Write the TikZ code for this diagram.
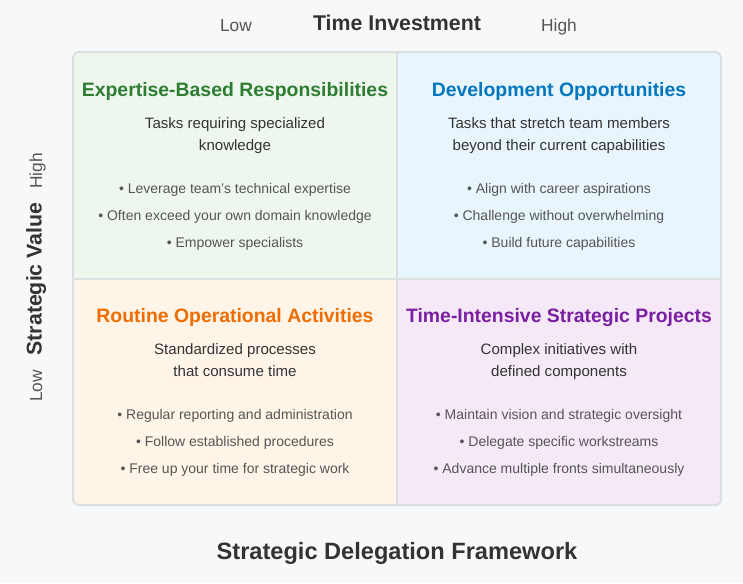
\documentclass[tikz,border=0pt]{standalone}
\usepackage{fontspec}
\setmainfont{Liberation Sans}
\usetikzlibrary{positioning}
\definecolor{pagebg}{HTML}{F7F8FA}
\definecolor{gridc}{HTML}{DCDFE2}
\definecolor{txt}{HTML}{333333}
\definecolor{itm}{HTML}{555555}
\definecolor{cgreen}{HTML}{2E7D32}
\definecolor{cblue}{HTML}{0277BD}
\definecolor{corange}{HTML}{EF6C00}
\definecolor{cpurple}{HTML}{7B1FA2}
\definecolor{bggreen}{HTML}{EEF7EE}
\definecolor{bgblue}{HTML}{E8F5FC}
\definecolor{bgorange}{HTML}{FEF5E8}
\definecolor{bgpurple}{HTML}{F5E9F7}
\begin{document}
\begin{tikzpicture}[x=0.75pt, y=-0.75pt,
  head/.style={anchor=base, font=\bfseries\fontsize{14.55}{17}\selectfont},
  desc/.style={anchor=base, text=txt, font=\fontsize{11.3}{16.5}\selectfont},
  item/.style={anchor=base, text=itm, font=\fontsize{10.5}{12}\selectfont},
  axis/.style={anchor=base, text=txt, font=\bfseries\fontsize{16}{19}\selectfont},
  tick/.style={anchor=base, text=itm, font=\fontsize{13}{15}\selectfont}]
\useasboundingbox[fill=pagebg] (0,0) rectangle (743,583);
% квадранты
\begin{scope}
  \clip[rounded corners=4] (73,52) rectangle (721,505);
  \fill[bggreen] (73,52) rectangle (397,279);
  \fill[bgblue] (397,52) rectangle (721,279);
  \fill[bgorange] (73,279) rectangle (397,505);
  \fill[bgpurple] (397,279) rectangle (721,505);
\end{scope}
%сетка
\draw[gridc, line width=1] (397,52) -- (397,505) (73,279) -- (721,279);
\draw[gridc, line width=1.5, rounded corners=4] (73,52) rectangle (721,505);
%оси
\node[axis] (tinv) at (397,30.5) {Time Investment};
\node[tick] (tlow) at (236,31) {Low};
\node[tick] (thigh) at (559,31) {High};
\node[axis, rotate=90] (sval) at (41.5,279) {Strategic Value};
\node[tick, rotate=90] (shigh) at (42,171) {High};
\node[tick, rotate=90] (slow) at (42,386) {Low};
\node[axis, font=\bfseries\fontsize{17.7}{21}\selectfont] (title) at (397,559) {Strategic Delegation Framework};
%содержимое
\foreach \n/\x/\y/\c/\h/\d/\b in {
  exp/235/0/cgreen/{Expertise-Based Responsibilities}/{Tasks requiring specialized\\knowledge}/{{Leverage team's technical expertise},{Often exceed your own domain knowledge},{Empower specialists}},
  dev/559/0/cblue/{Development Opportunities}/{Tasks that stretch team members\\beyond their current capabilities}/{{Align with career aspirations},{Challenge without overwhelming},{Build future capabilities}},
  rou/235/226/corange/{Routine Operational Activities}/{Standardized processes\\that consume time}/{{Regular reporting and administration},{Follow established procedures},{Free up your time for strategic work}},
  tim/559/226/cpurple/{Time-Intensive Strategic Projects}/{Complex initiatives with\\defined components}/{{Maintain vision and strategic oversight},{Delegate specific workstreams},{Advance multiple fronts simultaneously}}}{
  \node[head, text=\c] (\n-head) at (\x,96+\y) {\h};
  % base = последняя строка
  \node[desc, align=center] (\n-desc) at (\x,150.5+\y) {\d};
  \foreach \t [count=\i] in \b
    \node[item] (\n-b\i) at (\x,166+27*\i+\y) {• \t};
}
\end{tikzpicture}
\end{document}
